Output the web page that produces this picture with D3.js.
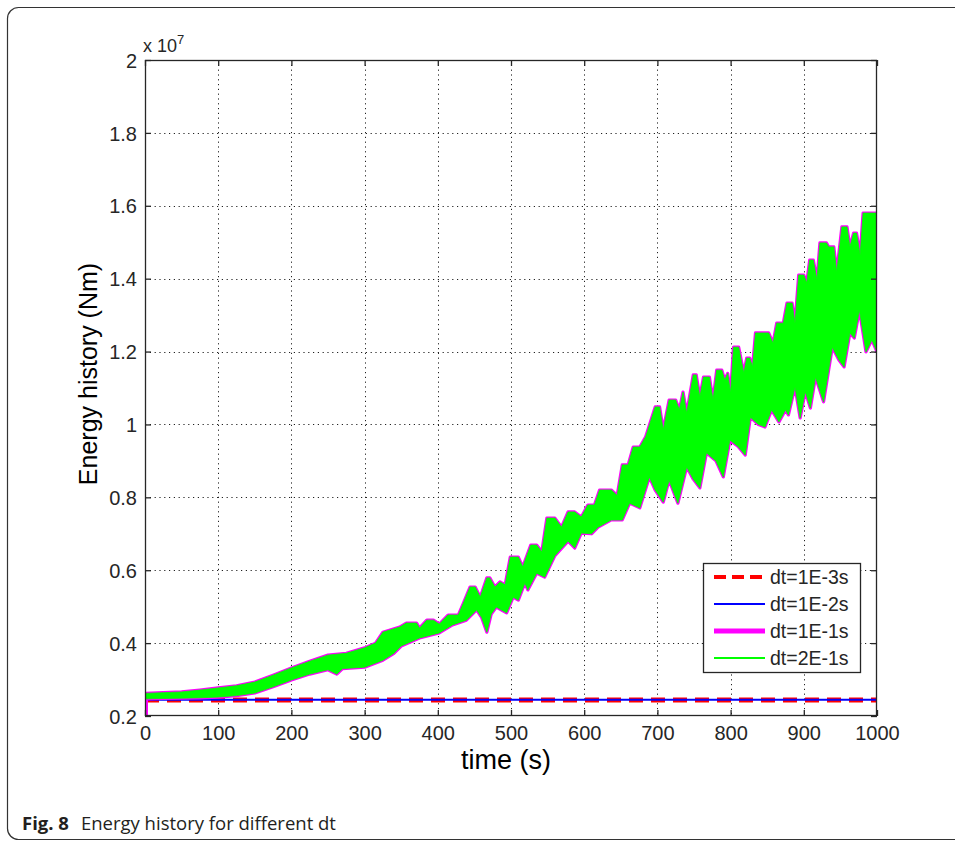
<!DOCTYPE html>
<html>
<head>
<meta charset="utf-8">
<script src="https://cdn.jsdelivr.net/npm/d3@7"></script>
<style>
  html, body { margin: 0; padding: 0; background: #fff; }
  svg { display: block; }
</style>
</head>
<body>
<svg id="chart" width="955" height="841"></svg>
<script>
// ---------------- DATA (energy in units of 1e7 Nm) ----------------
const xTicks = [0, 100, 200, 300, 400, 500, 600, 700, 800, 900, 1000];
const xTickLabels = ["0", "100", "200", "300", "400", "500", "600", "700", "800", "900", "1000"];
const yTicks = [0.2, 0.4, 0.6, 0.8, 1.0, 1.2, 1.4, 1.6, 1.8, 2.0];
const yTickLabels = ["0.2", "0.4", "0.6", "0.8", "1", "1.2", "1.4", "1.6", "1.8", "2"];

const seriesNames = ["dt=1E-3s", "dt=1E-2s", "dt=1E-1s", "dt=2E-1s"];

// dt=1E-3s and dt=1E-2s : flat
const flatTime = [0, 1000];
const dt1e3 = [0.244, 0.244];
const dt1e2 = [0.2445, 0.2445];

// dt=2E-1s (dt=1E-1s overlaps it) : oscillation envelope, upper edge
const upperTime = [0, 25, 50, 75, 100, 125, 150, 175, 200, 225, 250, 275, 300, 315, 325, 348, 357, 371, 375, 385, 394, 402, 414, 428, 435, 444, 451, 458, 467, 471, 478, 485, 492, 499, 510, 516, 527, 535, 542, 549, 560, 569, 578, 587, 596, 605, 614, 621, 637, 645, 652, 660, 667, 676, 684, 697, 703, 708, 716, 725, 730, 735, 740, 749, 753, 758, 763, 771, 776, 781, 788, 792, 796, 800, 804, 811, 818, 822, 826, 830, 834, 852, 858, 863, 872, 877, 884, 888, 893, 900, 904, 908, 913, 918, 922, 931, 934, 941, 945, 952, 959, 963, 968, 972, 977, 981, 1000];
const upperVal  = [0.262, 0.264, 0.266, 0.271, 0.277, 0.283, 0.293, 0.312, 0.332, 0.350, 0.367, 0.372, 0.387, 0.400, 0.430, 0.444, 0.455, 0.455, 0.441, 0.463, 0.463, 0.452, 0.477, 0.477, 0.510, 0.554, 0.554, 0.526, 0.579, 0.579, 0.554, 0.568, 0.560, 0.636, 0.636, 0.609, 0.669, 0.669, 0.650, 0.743, 0.743, 0.718, 0.760, 0.760, 0.746, 0.779, 0.779, 0.820, 0.820, 0.805, 0.889, 0.889, 0.938, 0.938, 0.966, 1.048, 1.048, 0.985, 1.067, 1.067, 1.040, 1.089, 1.031, 1.136, 1.136, 1.075, 1.130, 1.130, 1.067, 1.149, 1.149, 1.122, 1.140, 1.086, 1.212, 1.212, 1.141, 1.182, 1.182, 1.158, 1.251, 1.251, 1.223, 1.278, 1.278, 1.333, 1.333, 1.278, 1.410, 1.410, 1.388, 1.451, 1.451, 1.396, 1.498, 1.498, 1.487, 1.487, 1.418, 1.542, 1.542, 1.487, 1.525, 1.525, 1.465, 1.580, 1.580];
// lower edge
const lowerTime = [0, 25, 50, 75, 100, 125, 150, 175, 200, 225, 250, 262, 270, 300, 325, 340, 350, 375, 402, 420, 439, 453, 460, 467, 473, 480, 494, 503, 510, 519, 523, 535, 546, 560, 578, 587, 596, 610, 619, 637, 652, 662, 676, 689, 697, 708, 716, 728, 740, 749, 758, 767, 780, 790, 799, 810, 820, 827, 838, 847, 856, 866, 875, 879, 888, 895, 902, 909, 916, 927, 934, 939, 948, 955, 963, 969, 976, 985, 993, 1000];
const lowerVal  = [0.247, 0.248, 0.249, 0.250, 0.252, 0.256, 0.263, 0.280, 0.299, 0.315, 0.327, 0.315, 0.330, 0.334, 0.353, 0.372, 0.392, 0.414, 0.428, 0.450, 0.463, 0.491, 0.470, 0.430, 0.480, 0.499, 0.483, 0.526, 0.518, 0.565, 0.546, 0.592, 0.581, 0.640, 0.680, 0.661, 0.702, 0.700, 0.718, 0.738, 0.738, 0.784, 0.771, 0.856, 0.820, 0.787, 0.847, 0.784, 0.883, 0.850, 0.826, 0.922, 0.900, 0.856, 0.957, 0.940, 0.916, 1.020, 1.000, 0.993, 1.040, 1.007, 1.040, 1.026, 1.103, 1.018, 1.090, 1.045, 1.130, 1.062, 1.150, 1.212, 1.177, 1.158, 1.251, 1.237, 1.314, 1.199, 1.232, 1.199];
const dt1e1Start = [0.2, 0.262]; // initial rise of the dt=1E-1s curve at t=0

// ---------------- LAYOUT ----------------
const svg = d3.select("#chart");
const L = 145, R = 877, T = 60, B = 716;
const x = d3.scaleLinear().domain([0, 1000]).range([L, R]);
const y = d3.scaleLinear().domain([0.2, 2.0]).range([B, T]);
const fontAx = "'Liberation Sans', Arial, sans-serif";

// outer frame
svg.append("rect").attr("x", 7.5).attr("y", 7.5).attr("width", 1000).attr("height", 832)
  .attr("rx", 11).attr("fill", "none").attr("stroke", "#333").attr("stroke-width", 1.2);

// clip
svg.append("clipPath").attr("id", "clip").append("rect")
  .attr("x", L).attr("y", T).attr("width", R - L).attr("height", B - T);

// grid
const grid = svg.append("g").attr("stroke", "#222").attr("stroke-width", 1)
  .attr("stroke-dasharray", "1.2,3.6").attr("fill", "none");
xTicks.slice(1, -1).forEach(t => {
  grid.append("line").attr("x1", Math.round(x(t)) + 0.5).attr("x2", Math.round(x(t)) + 0.5)
    .attr("y1", T).attr("y2", B);
});
yTicks.slice(1, -1).forEach(v => {
  grid.append("line").attr("y1", Math.round(y(v)) + 0.5).attr("y2", Math.round(y(v)) + 0.5)
    .attr("x1", L).attr("x2", R);
});

// series
const plot = svg.append("g").attr("clip-path", "url(#clip)");
const upperPts = upperTime.map((t, i) => [t, upperVal[i]]);
const lowerPts = lowerTime.map((t, i) => [t, lowerVal[i]]).reverse();
const bandPoly = upperPts.concat(lowerPts);
const polyLine = d3.line().x(d => x(d[0])).y(d => y(d[1])).curve(d3.curveLinearClosed);

// dt=1E-3s red dashed
plot.append("path")
  .datum(flatTime.map((t, i) => [t, dt1e3[i]]))
  .attr("d", d3.line().x(d => x(d[0])).y(d => y(d[1])))
  .attr("stroke", "#ff0000").attr("stroke-width", 5).attr("stroke-dasharray", "14,8")
  .attr("fill", "none");
// dt=1E-2s blue
plot.append("path")
  .datum(flatTime.map((t, i) => [t, dt1e2[i]]))
  .attr("d", d3.line().x(d => x(d[0])).y(d => y(d[1])))
  .attr("stroke", "#0000ff").attr("stroke-width", 2).attr("fill", "none");
// dt=1E-1s magenta (thick, under green)
plot.append("path").datum(bandPoly).attr("d", polyLine)
  .attr("fill", "#ff00ff").attr("stroke", "#ff00ff").attr("stroke-width", 3.2)
  .attr("stroke-linejoin", "round");
plot.append("path")
  .datum(dt1e1Start.map(v => [0, v]))
  .attr("d", d3.line().x(d => x(d[0]) + 1.5).y(d => y(d[1])))
  .attr("stroke", "#ff00ff").attr("stroke-width", 3).attr("fill", "none");
// dt=2E-1s green
plot.append("path").datum(bandPoly).attr("d", polyLine)
  .attr("fill", "#00ff00").attr("stroke", "#00ff00").attr("stroke-width", 0.8)
  .attr("stroke-linejoin", "round");

// axes box
svg.append("rect").attr("x", L + 0.5).attr("y", T + 0.5).attr("width", R - L - 1).attr("height", B - T - 1)
  .attr("fill", "none").attr("stroke", "#262626").attr("stroke-width", 1.3);

// ticks (inside, all four sides) via d3 axes
const tk = 6;
const axB = svg.append("g").attr("transform", `translate(0,${B})`)
  .call(d3.axisBottom(x).tickValues(xTicks).tickSizeInner(-tk).tickSizeOuter(0)
    .tickFormat((d, i) => xTickLabels[i]).tickPadding(10));
const axT = svg.append("g").attr("transform", `translate(0,${T})`)
  .call(d3.axisTop(x).tickValues(xTicks).tickSizeInner(-tk).tickSizeOuter(0).tickFormat(""));
const axL = svg.append("g").attr("transform", `translate(${L},0)`)
  .call(d3.axisLeft(y).tickValues(yTicks).tickSizeInner(-tk).tickSizeOuter(0)
    .tickFormat((d, i) => yTickLabels[i]).tickPadding(8));
const axR = svg.append("g").attr("transform", `translate(${R},0)`)
  .call(d3.axisRight(y).tickValues(yTicks).tickSizeInner(-tk).tickSizeOuter(0).tickFormat(""));
[axB, axT, axL, axR].forEach(a => {
  a.select(".domain").remove();
  a.selectAll("line").attr("stroke", "#262626").attr("stroke-width", 1.3);
  a.selectAll("text").attr("fill", "#262626").style("font-family", fontAx).style("font-size", "20px");
});
axB.selectAll("text").attr("dy", "0.72em");
axL.selectAll("text").attr("dy", "0.36em");

// exponent label
const ex = svg.append("text").attr("x", 143).attr("y", 52).attr("fill", "#262626")
  .style("font-family", fontAx).style("font-size", "18px");
ex.append("tspan").text("x 10");
ex.append("tspan").attr("dy", -8).style("font-size", "13px").text("7");

// axis titles
svg.append("text").attr("x", 506).attr("y", 769).attr("text-anchor", "middle")
  .attr("fill", "#000").style("font-family", fontAx).style("font-size", "27px").text("time (s)");
svg.append("text").attr("transform", `translate(97,374) rotate(-90)`)
  .attr("text-anchor", "middle").attr("fill", "#000")
  .style("font-family", fontAx).style("font-size", "25px").text("Energy history (Nm)");

// legend
const lg = svg.append("g");
lg.append("rect").attr("x", 703.5).attr("y", 563.5).attr("width", 157).attr("height", 109)
  .attr("fill", "#fff").attr("stroke", "#262626").attr("stroke-width", 1.3);
const lgStyles = [
  { c: "#ff0000", w: 4, dash: "12,6" },
  { c: "#0000ff", w: 2, dash: null },
  { c: "#ff00ff", w: 5, dash: null },
  { c: "#00ff00", w: 2, dash: null }
];
seriesNames.forEach((name, i) => {
  const cy = 577 + i * 27;
  const s = lgStyles[i];
  lg.append("line").attr("x1", 714).attr("x2", 765).attr("y1", cy).attr("y2", cy)
    .attr("stroke", s.c).attr("stroke-width", s.w).attr("stroke-dasharray", s.dash);
  lg.append("text").attr("x", 770).attr("y", cy).attr("dy", "0.36em").attr("fill", "#262626")
    .style("font-family", fontAx).style("font-size", "19.5px").text(name);
});

// caption
const cap = svg.append("text").attr("x", 22).attr("y", 830).attr("fill", "#231f20")
  .style("font-family", "'Open Sans', 'Noto Sans', sans-serif").style("font-size", "18.5px");
cap.append("tspan").style("font-weight", "bold").text("Fig. 8");
cap.append("tspan").attr("dx", 12).text("Energy history for different dt");
</script>
</body>
</html>
